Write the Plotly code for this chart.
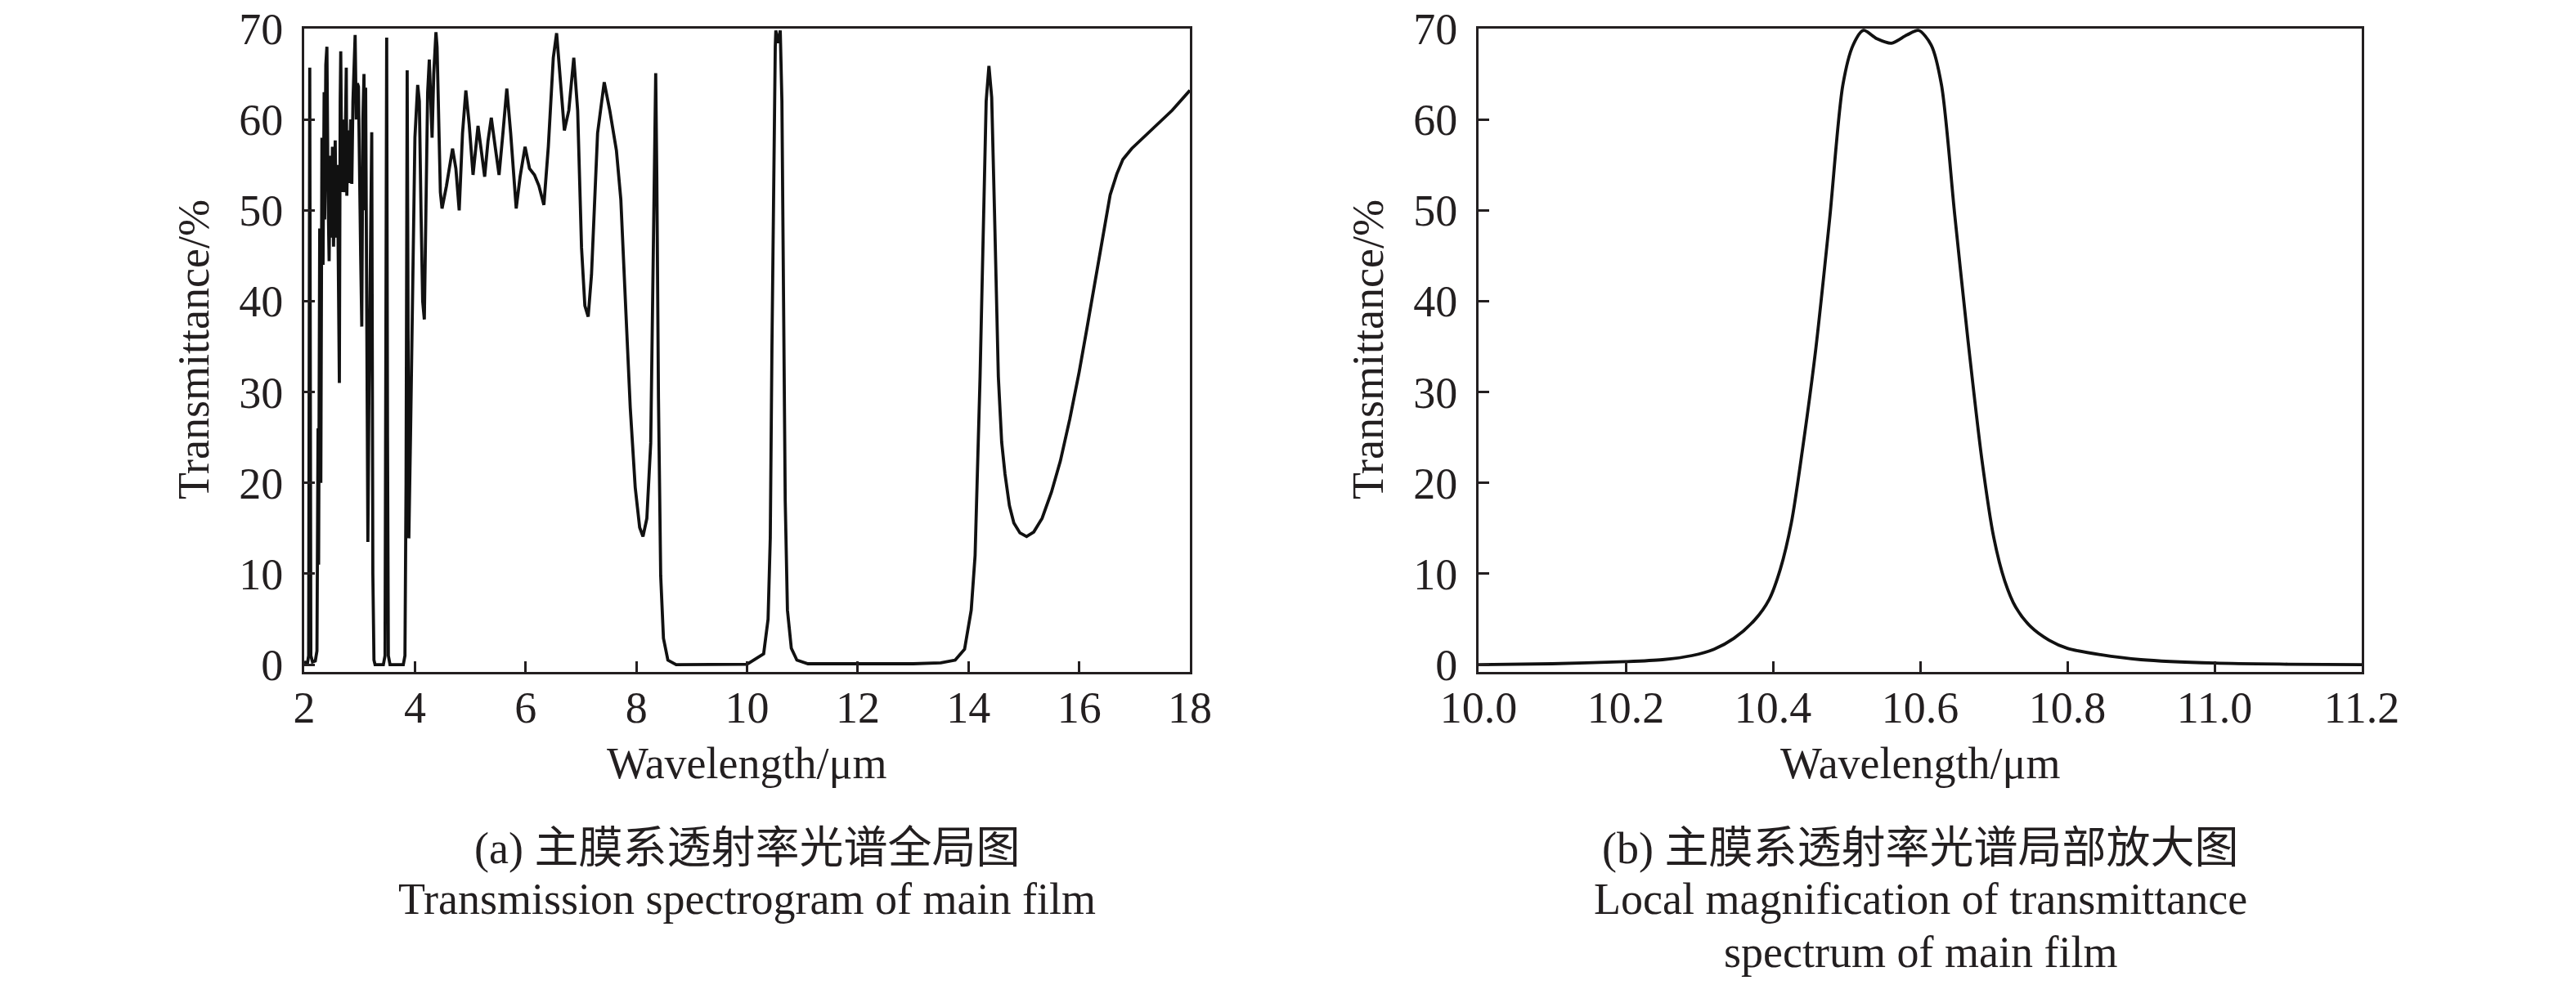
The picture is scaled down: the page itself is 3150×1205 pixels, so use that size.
import plotly.graph_objects as go

# ----------------------------------------------------------------------------
#  DATA
# ----------------------------------------------------------------------------
# (a) full transmission spectrum of the main film, 2-18 um
wl_full = [2.00, 2.06, 2.08, 2.10, 2.12, 2.15, 2.20, 2.23, 2.25, 2.26, 2.28, 2.30,
           2.32, 2.34, 2.36, 2.37, 2.39, 2.41, 2.43, 2.45, 2.47, 2.49, 2.51, 2.53,
           2.56, 2.58, 2.60, 2.62, 2.635, 2.65, 2.66, 2.68, 2.70, 2.72, 2.74, 2.76,
           2.77, 2.79, 2.81, 2.84, 2.86, 2.88, 2.90, 2.92, 2.94, 2.96, 2.98, 3.00,
           3.02, 3.04, 3.06, 3.08, 3.10, 3.11, 3.13, 3.15, 3.17, 3.20, 3.22, 3.24,
           3.26, 3.28, 3.43, 3.46, 3.475, 3.49, 3.505, 3.52, 3.55, 3.79, 3.82, 3.84,
           3.86, 3.875, 3.89, 3.92, 3.96, 4.00, 4.05, 4.08, 4.11, 4.14, 4.17, 4.20,
           4.23, 4.26, 4.29, 4.31, 4.34, 4.38, 4.40, 4.43, 4.46, 4.49, 4.57, 4.68,
           4.74, 4.80, 4.86, 4.92, 4.98, 5.05, 5.14, 5.19, 5.26, 5.32, 5.38, 5.45,
           5.52, 5.59, 5.66, 5.73, 5.83, 5.90, 5.99, 6.07, 6.16, 6.24, 6.33, 6.41,
           6.50, 6.56, 6.61, 6.70, 6.78, 6.87, 6.94, 7.01, 7.07, 7.13, 7.19, 7.30,
           7.42, 7.52, 7.64, 7.72, 7.81, 7.89, 7.98, 8.06, 8.12, 8.19, 8.26, 8.30,
           8.35, 8.37, 8.40, 8.44, 8.49, 8.57, 8.72, 10.00, 10.30, 10.38, 10.42,
           10.45, 10.48, 10.51, 10.52, 10.56, 10.60, 10.63, 10.66, 10.69, 10.73,
           10.80, 10.90, 11.10, 13.00, 13.50, 13.76, 13.93, 14.05, 14.12, 14.21,
           14.28, 14.32, 14.37, 14.42, 14.47, 14.54, 14.60, 14.66, 14.74, 14.82,
           14.93, 15.05, 15.18, 15.33, 15.50, 15.66, 15.83, 16.00, 16.14, 16.28,
           16.42, 16.56, 16.68, 16.79, 16.95, 17.12, 17.40, 17.68, 18.00]
t_full = [0.3, 0.2, 1.0, 65.7, 1.0, 0.3, 0.4, 1.5, 26, 11, 48, 20,
          58, 44, 63, 49, 66, 68, 52, 44.4, 56, 47, 57, 46,
          57.7, 47, 55, 43, 31, 62, 67.5, 52, 60, 52, 57, 65.7,
          51.6, 58.8, 53, 60, 52.9, 62, 66, 69.3, 60, 64, 63.6, 52,
          45, 37.2, 60, 65, 50, 63.5, 40, 13.5, 30, 50, 58.6, 10,
          0.5, 0.0, 0.0, 1.0, 25, 69, 25, 1.0, 0.0, 0.0, 1.0, 20,
          65.4, 30, 13.9, 25, 45, 58, 63.8, 62, 50, 40, 38, 52,
          63, 66.6, 60, 58, 65, 69.6, 68, 60, 52, 50.2, 52.7, 56.8,
          54.6, 50, 58.5, 63.2, 59.5, 53.9, 59.3, 57, 53.7, 57.6, 60.2, 57,
          53.9, 58.5, 63.4, 58.5, 50.2, 53.7, 57, 54.6, 53.9, 52.7, 50.6, 57,
          66.8, 69.5, 65.9, 58.8, 61, 66.8, 61, 45.9, 39.5, 38.3, 42.9, 58.5,
          64.1, 61, 56.6, 51.2, 39, 28.3, 19.5, 15.1, 14.1, 16.1, 24.4, 43.9,
          65.1, 53.7, 29.3, 9.8, 2.9, 0.5, 0.0, 0.05, 1.2, 5.0, 14,
          35, 55, 68, 69.8, 68.4, 69.8, 62, 40, 18, 6,
          1.8, 0.5, 0.1, 0.1, 0.2, 0.5, 1.7, 6.0, 12, 31.7,
          52, 62, 65.9, 62.4, 50, 31.7, 24.5, 21, 17.5, 15.6,
          14.5, 14.1, 14.6, 16.1, 19, 22.4, 27, 32.2, 37, 42,
          47, 51.7, 54, 55.6, 56.8, 57.8, 59.4, 61, 63.2]

# (b) local magnification around the 10.6 um pass band
wl_zoom = [10.0, 10.1, 10.2, 10.25, 10.29, 10.32, 10.347, 10.375, 10.395, 10.41,
           10.425, 10.44, 10.458, 10.477, 10.495, 10.509, 10.523, 10.541, 10.561,
           10.582, 10.598, 10.615, 10.629, 10.647, 10.665, 10.684, 10.70, 10.715,
           10.73, 10.75, 10.775, 10.8, 10.845, 10.9, 11.0, 11.1, 11.2]
t_zoom = [0.0, 0.1, 0.33, 0.55, 1.0, 1.7, 2.9, 4.9, 7.2, 10.5,
          15.6, 23.6, 34.6, 49, 63.8, 68.2, 69.8, 68.9, 68.4,
          69.3, 69.8, 68.2, 63.8, 49.5, 35.7, 22.5, 14.0, 9.2,
          6.3, 4.2, 2.7, 1.8, 1.1, 0.55, 0.17, 0.05, 0.0]

x_title = "Wavelength/μm"
y_title = "Transmittance/%"
caption_a = ["(a) 主膜系透射率光谱全局图", "Transmission spectrogram of main film"]
caption_b = ["(b) 主膜系透射率光谱局部放大图", "Local magnification of transmittance",
             "spectrum of main film"]

# ----------------------------------------------------------------------------
#  PLOT
# ----------------------------------------------------------------------------
W, H = 3150, 1205
INK = "#231f20"
FONT = "Liberation Serif, 'Times New Roman', 'Noto Sans CJK SC', serif"
FS = 54

def px_x(p):
    return p / W

def px_y(p):
    return 1 - p / H

fig = go.Figure()
fig.add_trace(go.Scatter(x=wl_full, y=t_full, mode="lines", xaxis="x", yaxis="y",
                         line=dict(color="#111111", width=3.8)))
fig.add_trace(go.Scatter(x=wl_zoom, y=t_zoom, mode="lines", xaxis="x2", yaxis="y2",
                         line=dict(color="#111111", width=3.8, shape="spline",
                                   smoothing=0.8)))

axis_style = dict(showline=True, mirror=True, linewidth=3, linecolor=INK,
                  ticks="inside", ticklen=13, tickwidth=3, tickcolor=INK,
                  showgrid=False, zeroline=False, automargin=False,
                  tickfont=dict(family=FONT, size=FS, color=INK))

y_dom = [px_y(822), px_y(35)]
fig.update_layout(
    width=W, height=H,
    margin=dict(l=0, r=0, t=0, b=0, pad=0),
    paper_bgcolor="white", plot_bgcolor="white",
    showlegend=False,
    font=dict(family=FONT, size=FS, color=INK),
    xaxis=dict(domain=[px_x(372), px_x(1455)], anchor="y", range=[2, 18],
               tick0=2, dtick=2, ticklabelstandoff=-6, **axis_style),
    yaxis=dict(domain=y_dom, anchor="x", range=[-0.8, 70], tick0=0, dtick=10,
               ticklabelstandoff=12, **axis_style),
    xaxis2=dict(domain=[px_x(1808), px_x(2888)], anchor="y2", range=[10, 11.2],
                tick0=10, dtick=0.2, tickformat=".1f", ticklabelstandoff=-6, **axis_style),
    yaxis2=dict(domain=y_dom, anchor="x2", range=[-0.8, 70], tick0=0, dtick=10,
                ticklabelstandoff=12, **axis_style),
)

anns = []
for cx, ytx in [(913.5, 237), (2348, 1673)]:
    anns.append(dict(text=x_title, x=px_x(cx), y=px_y(934)))
    anns.append(dict(text=y_title, x=px_x(ytx), y=px_y(428), textangle=-90))
for i, line in enumerate(caption_a):
    anns.append(dict(text=line, x=px_x(913.5), y=px_y([1038, 1100][i])))
for i, line in enumerate(caption_b):
    anns.append(dict(text=line, x=px_x(2348), y=px_y([1038, 1100, 1165][i])))
for a in anns:
    a.update(xref="paper", yref="paper", showarrow=False, xanchor="center",
             yanchor="middle", font=dict(family=FONT, size=FS, color=INK))
fig.update_layout(annotations=anns)

# page body margin would shift the figure by 8 px
fig.write_html("out.html", config={"displayModeBar": False},
               post_script="document.body.style.margin='0';")
